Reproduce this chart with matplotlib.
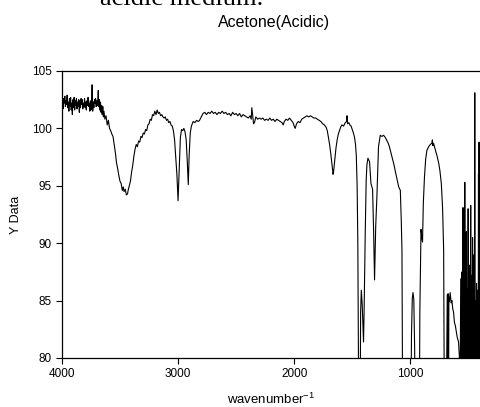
import matplotlib
matplotlib.use("Agg")
import matplotlib.pyplot as plt

plt.rcParams['font.family'] = ['Liberation Sans', 'DejaVu Sans']
plt.rcParams['mathtext.default'] = 'regular'

# IR spectrum (wavenumber, transmittance)
wavenumber = [
    4000, 3995, 3990, 3985, 3980, 3975, 3970, 3965, 3960, 3955, 3950, 3945, 3940, 3935,
    3930, 3925, 3920, 3915, 3910, 3905, 3900, 3895, 3890, 3885, 3880, 3875, 3870, 3865,
    3860, 3855, 3850, 3845, 3840, 3835, 3830, 3825, 3820, 3815, 3810, 3805, 3800, 3795,
    3790, 3785, 3780, 3775, 3770, 3765, 3760, 3755, 3750, 3745, 3740, 3735, 3730, 3725,
    3720, 3715, 3710, 3705, 3700, 3695, 3690, 3687, 3683, 3678, 3673, 3668, 3663, 3658,
    3653, 3648, 3643, 3638, 3630, 3620, 3610, 3600, 3590, 3580, 3570, 3560, 3550, 3540,
    3530, 3520, 3510, 3500, 3490, 3480, 3472, 3465, 3455, 3445, 3435, 3430, 3420, 3410,
    3400, 3390, 3380, 3370, 3360, 3350, 3340, 3330, 3320, 3310, 3300, 3290, 3280, 3270,
    3260, 3250, 3240, 3230, 3220, 3210, 3200, 3190, 3180, 3170, 3160, 3150, 3140, 3130,
    3120, 3110, 3100, 3090, 3080, 3070, 3060, 3050, 3040, 3030, 3020, 3010, 3000, 2990,
    2980, 2970, 2960, 2950, 2940, 2930, 2920, 2912, 2905, 2895, 2885, 2870, 2855, 2840,
    2825, 2815, 2800, 2785, 2770, 2755, 2740, 2725, 2710, 2695, 2680, 2665, 2650, 2635,
    2620, 2605, 2590, 2575, 2560, 2545, 2530, 2515, 2500, 2485, 2470, 2455, 2440, 2425,
    2410, 2395, 2380, 2370, 2365, 2358, 2350, 2342, 2330, 2315, 2300, 2285, 2270, 2255,
    2240, 2225, 2210, 2195, 2180, 2165, 2150, 2135, 2120, 2105, 2095, 2085, 2070, 2055,
    2040, 2025, 2010, 2000, 1991, 1980, 1965, 1950, 1935, 1920, 1905, 1890, 1875, 1860,
    1845, 1830, 1815, 1800, 1785, 1770, 1755, 1740, 1725, 1715, 1705, 1695, 1685, 1675,
    1665, 1660, 1650, 1640, 1630, 1620, 1610, 1600, 1590, 1575, 1560, 1548, 1545, 1540,
    1530, 1520, 1510, 1500, 1490, 1480, 1472, 1465, 1458, 1452, 1448, 1444, 1432, 1428,
    1422, 1414, 1408, 1403, 1398, 1388, 1380, 1374, 1365, 1351, 1339, 1325, 1316, 1308,
    1298, 1288, 1274, 1259, 1245, 1230, 1215, 1200, 1190, 1180, 1170, 1160, 1150, 1140,
    1130, 1115, 1100, 1086, 1078, 1072, 1066, 995, 990, 983, 977, 970, 963, 958,
    922, 918, 908, 900, 895, 888, 878, 868, 857, 842, 828, 815, 810, 806,
    800, 784, 770, 756, 745, 733, 722, 713, 707, 690, 682, 678, 675, 671,
    668, 663, 657, 652, 648, 642, 635, 628, 620, 612, 604, 596, 585, 578,
    572, 566, 560, 555, 550, 546, 541, 537, 534, 531, 527, 524, 520, 517,
    514, 510, 506, 502, 498, 494, 491, 488, 484, 480, 476, 472, 468, 464,
    460, 457, 454, 451, 448, 445, 442, 438, 434, 430, 426, 420, 416, 413,
    411, 408, 405, 402, 400,
]
transmittance = [
    102.0, 102.5, 101.7, 102.6, 102.2, 102.8, 101.9, 102.4, 102.1, 102.9, 101.8, 102.3, 101.5, 102.6,
    101.9, 102.7, 101.6, 102.2, 101.2, 102.5, 101.8, 102.7, 101.6, 102.4, 102.0, 102.6, 101.7, 102.3,
    101.9, 102.5, 101.4, 102.4, 101.8, 102.6, 102.1, 102.5, 101.7, 102.2, 101.9, 102.6, 101.8, 102.3,
    101.6, 102.4, 102.0, 102.7, 101.9, 102.2, 101.5, 102.4, 101.6, 102.1, 103.8, 101.5, 102.3, 101.8,
    102.5, 102.2, 102.6, 101.9, 102.4, 102.0, 102.6, 103.3, 101.9, 102.5, 101.6, 102.3, 101.4, 102.0,
    101.2, 101.9, 101.0, 101.5, 100.8, 101.1, 100.3, 100.7, 100.0, 99.8, 99.5, 99.3, 98.6, 97.9,
    97.0, 96.5, 95.9, 95.4, 95.2, 94.6, 94.9, 94.5, 94.7, 94.2, 94.3, 94.6, 95.0, 95.4,
    96.2, 96.8, 97.6, 98.2, 98.6, 98.4, 98.9, 98.8, 99.3, 99.2, 99.6, 99.5, 99.9, 99.8,
    100.3, 100.4, 100.8, 100.7, 101.2, 101.1, 101.5, 101.2, 101.6, 101.3, 101.4, 101.1, 101.2, 101.0,
    100.9, 101.0, 100.7, 100.8, 100.5, 100.6, 100.3, 100.2, 99.8, 99.0, 97.5, 96.0, 93.7, 96.5,
    99.2, 99.9, 99.8, 100.0, 99.7, 99.0, 97.0, 95.1, 97.5, 99.6, 100.2, 100.6, 100.5, 100.7,
    100.6, 100.7, 101.0, 101.3, 101.4, 101.2, 101.4, 101.3, 101.5, 101.3, 101.4, 101.2, 101.4, 101.3,
    101.5, 101.3, 101.4, 101.2, 101.3, 101.1, 101.4, 101.2, 101.3, 101.1, 101.3, 101.0, 101.2, 101.1,
    101.0, 100.9, 101.1, 100.8, 101.8, 101.2, 100.4, 100.5, 101.0, 100.8, 100.9, 100.8, 100.9, 100.7,
    100.8, 100.7, 100.9, 100.7, 100.8, 100.6, 100.8, 100.7, 100.6, 100.5, 100.3, 100.6, 100.8, 100.7,
    100.9, 100.7, 100.5, 100.2, 100.0, 100.4, 100.6, 100.5, 100.8, 100.9, 101.0, 101.1, 101.0, 101.1,
    101.0, 100.9, 100.9, 100.8, 100.7, 100.6, 100.4, 100.3, 100.1, 99.8, 99.2, 98.6, 97.8, 96.9,
    96.0, 96.3, 97.3, 98.3, 99.0, 99.5, 99.8, 100.1, 100.3, 100.2, 100.5, 100.6, 101.1, 100.4,
    100.5, 100.3, 100.2, 99.9, 99.6, 99.2, 98.6, 97.6, 95.0, 90.0, 83.0, 75.0, 75.0, 84.0,
    85.9, 84.6, 82.8, 81.4, 84.0, 91.0, 95.5, 96.8, 97.4, 97.1, 95.2, 94.7, 91.0, 86.8,
    91.5, 94.0, 98.4, 99.4, 99.3, 99.4, 99.2, 98.9, 98.7, 98.4, 98.0, 97.6, 97.2, 96.8,
    96.3, 95.6, 94.9, 94.6, 92.0, 89.4, 75.0, 75.0, 82.0, 85.2, 85.7, 85.1, 81.0, 75.0,
    75.0, 84.0, 91.2, 90.4, 90.1, 93.5, 95.8, 97.3, 98.1, 98.4, 98.6, 98.7, 99.0, 98.5,
    98.7, 98.1, 97.6, 97.0, 96.3, 95.2, 93.0, 89.4, 75.0, 75.0, 85.5, 75.0, 85.6, 75.0,
    85.3, 84.9, 85.7, 85.2, 84.8, 85.0, 84.3, 84.0, 83.1, 82.8, 82.3, 81.8, 81.4, 80.2,
    75.0, 86.9, 75.0, 87.5, 75.0, 93.1, 75.0, 92.8, 75.0, 95.3, 75.0, 88.1, 75.0, 91.0,
    75.0, 86.0, 75.0, 93.0, 75.0, 88.1, 75.0, 84.0, 75.0, 93.3, 75.0, 87.2, 75.0, 90.5,
    75.0, 84.5, 75.0, 89.0, 75.0, 103.1, 75.0, 85.0, 75.0, 86.5, 75.0, 85.9, 75.0, 96.0,
    75.0, 98.8, 75.0, 97.0, 75.0,
]

fig = plt.figure(figsize=(4.8, 4.07), dpi=100)
ax = fig.add_axes([0.129, 0.1204, 0.871, 0.7052])

ax.plot(wavenumber, transmittance, color='black', linewidth=0.8)

ax.set_xlim(4000, 400)
ax.set_ylim(80, 105)
ax.set_xticks([4000, 3000, 2000, 1000])
ax.set_yticks([80, 85, 90, 95, 100, 105])
ax.tick_params(direction='out', length=4, width=0.8, labelsize=8.5, colors='black')
ax.spines['right'].set_visible(False)
for s in ['left', 'bottom', 'top']:
    ax.spines[s].set_linewidth(0.9)

ax.set_xlabel('wavenumber$^{-1}$', fontsize=9.5, labelpad=8)
ax.set_ylabel('Y Data', fontsize=9, labelpad=7)

fig.text(0.57, 0.945, 'Acetone(Acidic)', fontsize=11.5, ha='center', va='center')
# document text cut off at the top of the screenshot
fig.text(0.208, 0.988, 'acidic medium.', fontsize=19, family=['Liberation Serif'],
         ha='left', va='baseline')

fig.savefig('out.png', dpi=100)
plt.close()
